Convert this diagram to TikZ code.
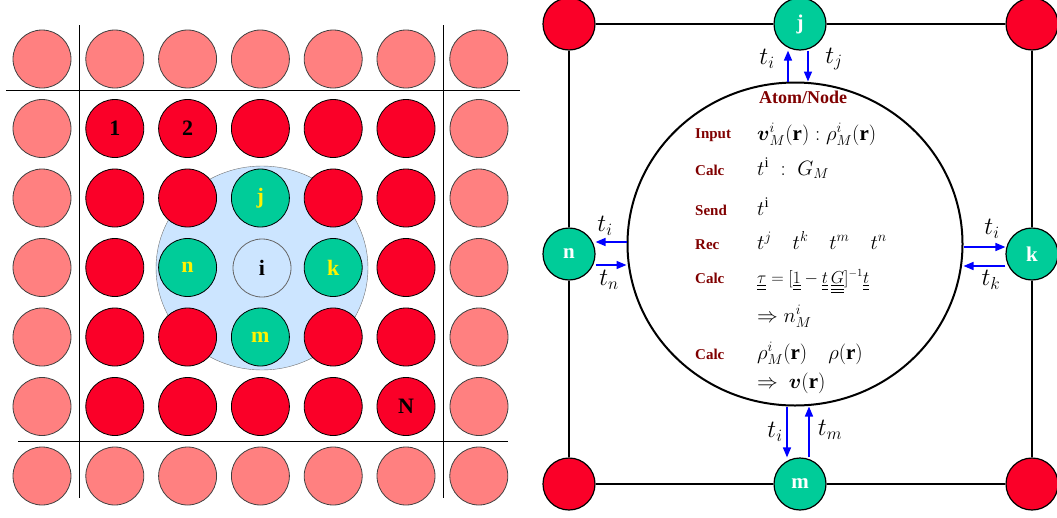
\documentclass[tikz,border=0pt]{standalone}
\usepackage{fontspec,amsmath}
\setmainfont{Liberation Serif}
\usetikzlibrary{arrows.meta,shapes.geometric}

\definecolor{atomred}{RGB}{250,0,40}
\definecolor{palered}{RGB}{255,128,128}
\definecolor{atomgreen}{RGB}{0,204,153}
\definecolor{zoneblue}{RGB}{204,229,255}
\definecolor{labelred}{RGB}{128,0,0}

\begin{document}
\begin{tikzpicture}[x=1pt,y=-1pt,>={Triangle[length=10pt,width=8pt]},
 site/.style={circle,draw,line width=.8pt,minimum size=58pt,inner sep=0pt,font=\fontsize{22}{24}\selectfont\bfseries},
 pale/.style={site,fill=palered,draw=black!75},
 inner/.style={site,fill=atomred},
 nbr/.style={site,fill=atomgreen,text=yellow},
 corner/.style={circle,draw,line width=1.2pt,minimum size=52pt,inner sep=0pt,fill=atomred},
 peer/.style={corner,fill=atomgreen,text=white,font=\fontsize{21}{23}\selectfont\bfseries},
 flow/.style={->,blue,line width=1.6pt},
 tlab/.style={inner sep=0pt,font=\fontsize{24}{28}\selectfont},
 cmd/.style={anchor=base west,inner sep=0pt,text=labelred,font=\fontsize{15}{17}\selectfont\bfseries},
 eq/.style={anchor=base west,inner sep=0pt,font=\fontsize{21}{24}\selectfont}]
\useasboundingbox (0,0) rectangle (1057,517);
% left: periodic cell
\node[ellipse,draw=black!55,fill=zoneblue,minimum width=212pt,minimum height=204pt] (zone) at (262,268) {};
\draw[line width=.8pt] (79,25)--(79,498) (443,25)--(443,498) (6,90)--(520,90) (18,441)--(508,441);
\foreach \c in {0,...,6}{
 \node[pale] (a0\c) at ({42+72.8*\c},59) {};
 \node[pale] (a6\c) at ({42+72.8*\c},476) {};
}
\foreach \r in {1,...,5}{
 \node[pale] (a\r0) at (42,{59+69.5*\r}) {};
 \node[pale] (a\r6) at (479,{59+69.5*\r}) {};
}
\foreach \r/\c/\t in {1/1/1,1/2/2,1/3/{},1/4/{},1/5/{},2/1/{},2/2/{},2/4/{},2/5/{},3/1/{},3/5/{},
 4/1/{},4/2/{},4/4/{},4/5/{},5/1/{},5/2/{},5/3/{},5/4/{},5/5/N}
 \node[inner] (a\r\c) at ({42+72.8*\c},{59+69.5*\r}) {\t};
\foreach \r/\c/\t in {2/3/j,3/2/n,3/4/k,4/3/m}
 \node[nbr] (a\r\c) at ({42+72.8*\c},{59+69.5*\r}) {\t};
\node[site,fill=zoneblue,draw=black!60] (a33) at (zone.center) {i};
% right: one atom and its neighbours
\node[ellipse,draw,line width=2pt,minimum width=335pt,minimum height=323pt] (atom) at (795,244) {};
\node[corner] (tl) at (569,24) {};
\node[corner] (tr) at (1032,24) {};
\node[corner] (bl) at (569,484) {};
\node[corner] (br) at (1032,484) {};
\node[peer] (j) at (800,24) {j};
\node[peer] (k) at (1032,254) {k};
\node[peer] (m) at (800,484) {m};
\node[peer] (n) at (569,254) {n};
\draw[line width=1.2pt] (tl)--(j)--(tr)--(k)--(br)--(m)--(bl)--(n)--(tl);
\draw[flow] (atom.north -| 788,0)--(j.south -| 788,0);
\draw[flow] (j.south -| 808,0)--(atom.north -| 808,0);
\draw[flow] (atom.south -| 787,0)--(m.north -| 787,0);
\draw[flow] (m.north -| 809,0)--(atom.south -| 809,0);
\draw[flow] (atom.west |- 0,242)--(n.east |- 0,242);
\draw[flow] (n.east |- 0,265)--(atom.west |- 0,265);
\draw[flow] (atom.east |- 0,247)--(k.west |- 0,247);
\draw[flow] (k.west |- 0,266)--(atom.east |- 0,266);
\node[tlab] (tij) at (767,59) {$t_i$};
\node[tlab] (tj) at (834,59) {$t_j$};
\node[tlab] (tim) at (775,432) {$t_i$};
\node[tlab] (tm) at (830,430) {$t_m$};
\node[tlab] (tin) at (605,226) {$t_i$};
\node[tlab] (tn) at (609,280) {$t_n$};
\node[tlab] (tik) at (992,229) {$t_i$};
\node[tlab] (tk) at (991,280) {$t_k$};
\node[anchor=base,inner sep=0pt,text=labelred,font=\fontsize{18}{20}\selectfont\bfseries] (title) at (803,103) {Atom/Node};
\node[cmd] (input) at (695,138) {Input};
\node[eq] (input-eq) at (757,140) {$\boldsymbol{v}^{i}_{M}(\mathbf{r}) : \rho^{i}_{M}(\mathbf{r})$};
\node[cmd] (calc-a) at (695,175) {Calc};
\node[eq] (calc-a-eq) at (757,175) {$t^{\mathrm{i}}\;:\;G_{M}$};
\node[cmd] (send) at (695,215) {Send};
\node[eq] (send-eq) at (757,215) {$t^{\mathrm{i}}$};
\node[cmd] (rec) at (695,249) {Rec};
\node[eq] (rec-eq) at (757,249) {$t^{j}\quad t^{k}\quad t^{m}\quad t^{n}$};
\node[cmd] (calc-b) at (695,283) {Calc};
\node[eq,font=\fontsize{16}{18}\selectfont] (calc-b-eq) at (757,283)
 {$\underline{\underline{\tau}}=[\underline{\underline{1}}-\underline{\underline{t}}\,\underline{\underline{\underline{G}}}]^{-1}\underline{\underline{t}}$};
\node[eq] (occ-eq) at (757,322) {$\Rightarrow n^{i}_{M}$};
\node[cmd] (calc-c) at (695,359) {Calc};
\node[eq] (calc-c-eq) at (757,359) {$\rho^{i}_{M}(\mathbf{r})\quad\rho(\mathbf{r})$};
\node[eq] (pot-eq) at (757,388) {$\Rightarrow\ \boldsymbol{v}(\mathbf{r})$};
\end{tikzpicture}
\end{document}
